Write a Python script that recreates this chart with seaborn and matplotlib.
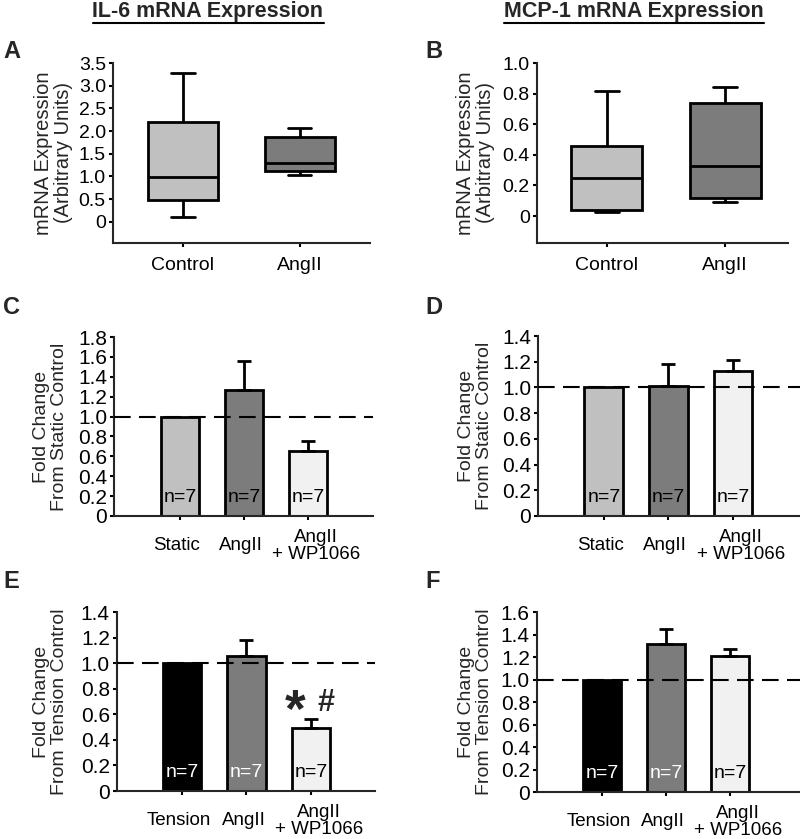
import matplotlib
matplotlib.use("Agg")
import matplotlib.pyplot as plt
import numpy as np
import pandas as pd
import seaborn as sns
from matplotlib.lines import Line2D
from matplotlib.ticker import FuncFormatter, MultipleLocator
from matplotlib.transforms import ScaledTranslation

# five-number summaries: min, q1, median, q3, max
box_groups = ["Control", "AngII"]
il6_control = [0.10, 0.47, 0.99, 2.20, 3.27]
il6_angii = [1.04, 1.11, 1.30, 1.87, 2.07]
mcp1_control = [0.025, 0.04, 0.25, 0.46, 0.82]
mcp1_angii = [0.09, 0.12, 0.33, 0.74, 0.84]

# bar panels (mean and upper SEM)
static_labels = ["Static", "AngII", "AngII\n+ WP1066"]
tension_labels = ["Tension", "AngII", "AngII\n+ WP1066"]
il6_static = [1.0, 1.27, 0.65]
il6_static_err = [0.0, 0.29, 0.10]
mcp1_static = [1.0, 1.01, 1.13]
mcp1_static_err = [0.0, 0.17, 0.08]
il6_tension = [1.0, 1.06, 0.49]
il6_tension_err = [0.0, 0.12, 0.07]
mcp1_tension = [1.0, 1.32, 1.21]
mcp1_tension_err = [0.0, 0.13, 0.06]
n_labels = ["n=7", "n=7", "n=7"]

LIGHT = "#c0c0c0"
DARK = "#7c7c7c"
PALE = "#f1f1f1"

sns.set_style("ticks")
plt.rcParams["font.family"] = ["Liberation Sans", "DejaVu Sans"]
plt.rcParams["axes.linewidth"] = 1.5

zero_fmt = FuncFormatter(lambda v, p: "0" if abs(v) < 1e-9 else f"{v:.1f}")


def style_axes(ax, tick_size):
    sns.despine(ax=ax)
    ax.tick_params(axis="both", width=1.5, length=3, color="black",
                   labelcolor="black", direction="out")
    ax.tick_params(axis="y", labelsize=tick_size, pad=2)
    ax.yaxis.set_major_formatter(zero_fmt)
    ax.set_xlabel("")


def draw_box(ax, control, angii, ylim, step, xlim, label_x):
    df = pd.DataFrame({"group": np.repeat(box_groups, 5),
                       "value": control + angii})
    kws = dict(data=df, x="group", y="value", hue="group",
               palette=[LIGHT, DARK], saturation=1, width=0.6,
               whis=(0, 100), linecolor="black", linewidth=2,
               legend=False, ax=ax)
    try:
        sns.boxplot(capwidths=0.2, **kws)
    except TypeError:
        ax.cla()
        sns.boxplot(**kws)
    ax.set_ylim(*ylim)
    ax.set_xlim(*xlim)
    ax.yaxis.set_major_locator(MultipleLocator(step))
    ax.set_yticks([t for t in ax.get_yticks() if 0 <= t <= ylim[1] + 1e-9])
    ax.set_ylim(*ylim)
    style_axes(ax, 14)
    ax.set_xticks(range(2), box_groups, va="center", fontsize=14)
    ax.tick_params(axis="x", pad=13)
    ax.set_ylabel("mRNA Expression\n(Arbitrary Units)", fontsize=14.5,
                  linespacing=1.05)
    ax.yaxis.set_label_coords(label_x, 0.5)


def draw_bars(ax, labels, values, errs, colors, text_colors, ymax, xlim,
              ylabel, label_x):
    sns.barplot(x=labels, y=values, hue=labels, palette=colors,
                saturation=1, width=0.6, edgecolor="black", linewidth=2,
                errorbar=None, legend=False, ax=ax)
    idx = [i for i, e in enumerate(errs) if e > 0]
    ax.errorbar(idx, [values[i] for i in idx],
                yerr=[[0] * len(idx), [errs[i] for i in idx]],
                fmt="none", ecolor="black", elinewidth=2, capsize=5,
                capthick=2, zorder=3)
    ax.axhline(1.0, color="black", lw=1.5, ls=(0, (8, 4)), zorder=4)
    for i, (txt, c) in enumerate(zip(n_labels, text_colors)):
        ax.annotate(txt, (i, 0), xytext=(0, 13), textcoords="offset points",
                    ha="center", va="center", fontsize=14, color=c)
    ax.set_ylim(0, ymax)
    ax.set_xlim(*xlim)
    ax.set_yticks(np.arange(0, ymax + 0.01, 0.2))
    style_axes(ax, 15)
    ax.set_xticks(range(3), labels, va="center", fontsize=13.5,
                  linespacing=1.05)
    ax.tick_params(axis="x", pad=18.5)
    # the labels sit a little off their ticks in the original figure
    for lab, dx in zip(ax.get_xticklabels(), [-3, -3, 8]):
        lab.set_transform(lab.get_transform() +
                          ScaledTranslation(dx / 100, 0, ax.figure.dpi_scale_trans))
    ax.set_ylabel(ylabel, fontsize=14, linespacing=1.05)
    ax.yaxis.set_label_coords(label_x, 0.5)


fig = plt.figure(figsize=(8, 8.39), dpi=100)

ax_a = fig.add_axes([0.141, 0.7104, 0.321, 0.2145])
draw_box(ax_a, il6_control, il6_angii, (-0.47, 3.5), 0.5, (-0.6, 1.6), -0.156)

ax_b = fig.add_axes([0.671, 0.7104, 0.314, 0.2145])
draw_box(ax_b, mcp1_control, mcp1_angii, (-0.176, 1.0), 0.2, (-0.59, 1.53), -0.167)

ax_c = fig.add_axes([0.1425, 0.385, 0.324, 0.2133])
draw_bars(ax_c, static_labels, il6_static, il6_static_err,
          [LIGHT, DARK, PALE], ["black"] * 3, 1.8, (-1.03, 3.02),
          "Fold Change\nFrom Static Control", -0.178)

ax_d = fig.add_axes([0.6725, 0.385, 0.3275, 0.2145])
draw_bars(ax_d, static_labels, mcp1_static, mcp1_static_err,
          [LIGHT, DARK, PALE], ["black"] * 3, 1.4, (-1.02, 3.04),
          "Fold Change\nFrom Static Control", -0.172)

ax_e = fig.add_axes([0.146, 0.0572, 0.3225, 0.2133])
draw_bars(ax_e, tension_labels, il6_tension, il6_tension_err,
          ["black", DARK, PALE], ["white", "white", "black"], 1.4, (-1.01, 2.99),
          "Fold Change\nFrom Tension Control", -0.19)
ax_e.text(1.75, 0.61, "*", fontsize=38, fontweight="bold", ha="center",
          va="center")
ax_e.text(2.23, 0.69, "#", fontsize=22, fontweight="bold", ha="center",
          va="center")

ax_f = fig.add_axes([0.671, 0.056, 0.329, 0.2145])
draw_bars(ax_f, tension_labels, mcp1_tension, mcp1_tension_err,
          ["black", DARK, PALE], ["white", "white", "black"], 1.6, (-1.02, 3.09),
          "Fold Change\nFrom Tension Control", -0.167)

# panel letters
for letter, x, y in [("A", 3, 52), ("B", 425, 52), ("C", 3, 307),
                     ("D", 425, 307), ("E", 3, 582), ("F", 425, 582)]:
    fig.text(x / 800, 1 - y / 839, letter, fontsize=17, fontweight="bold",
             ha="left", va="center")

# underlined column titles
titles = []
for txt, x in [("IL-6 mRNA Expression", 208), ("MCP-1 mRNA Expression", 634)]:
    titles.append(fig.text(x / 800, 1 - 12 / 839, txt, fontsize=15.5,
                           fontweight="bold", ha="center", va="center"))
fig.canvas.draw()
inv = fig.transFigure.inverted()
for t in titles:
    bb = t.get_window_extent().transformed(inv)
    fig.add_artist(Line2D([bb.x0, bb.x1], [1 - 23 / 839] * 2,
                          transform=fig.transFigure, color="black", lw=1.5))

fig.savefig("out.png", dpi=100)
